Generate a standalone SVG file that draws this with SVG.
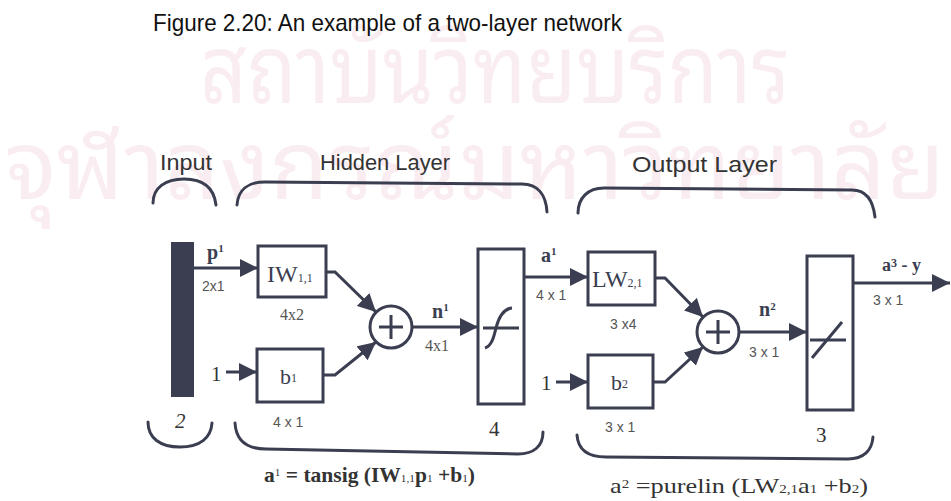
<svg xmlns="http://www.w3.org/2000/svg" width="951" height="501" viewBox="0 0 951 501">
<style>
.wm{font-family:"Noto Sans Thai Looped","Noto Sans Thai","Noto Sans","DejaVu Sans",sans-serif;fill:#faedf2;font-size:96px}
.ln{stroke:#3a3e50;stroke-width:3;fill:none}
.br{stroke:#3a3e50;stroke-width:3;fill:none;stroke-linecap:round}
.box{stroke:#3a3e50;stroke-width:3;fill:#fff}
.lbl{font-family:"Liberation Sans",Arial,sans-serif;font-size:22px;fill:#333}
.dim{font-family:"Liberation Sans",Arial,sans-serif;font-size:14px;fill:#555}
.sdim{font-family:"Liberation Serif","Times New Roman",serif;font-size:16px;fill:#555}
.ser{font-family:"Liberation Serif","Times New Roman",serif;fill:#3a3e50}
.sig{font-family:"Liberation Serif","Times New Roman",serif;font-weight:bold;fill:#3a3e50}
.frm{font-family:"Liberation Serif","Times New Roman",serif;font-size:21px;fill:#333}
</style>
<defs>
<marker id="ah" markerUnits="userSpaceOnUse" markerWidth="20" markerHeight="18" refX="18" refY="9" orient="auto">
<path d="M0,0 L18,9 L0,18 z" fill="#3a3e50"/>
</marker>
</defs>
<rect width="951" height="501" fill="#fff"/>
<g id="watermark">
<text class="wm" x="200" y="103" textLength="590" lengthAdjust="spacingAndGlyphs">สถาบันวิทยบริการ</text>
<text class="wm" x="5" y="199" textLength="940" lengthAdjust="spacingAndGlyphs">จุฬาลงกรณ์มหาวิทยาลัย</text>
</g>
<text id="title" x="153" y="31" font-family="Liberation Sans,Arial,sans-serif" font-size="24" fill="#111" textLength="469" lengthAdjust="spacingAndGlyphs">Figure 2.20: An example of a two-layer network</text>
<g id="layer-labels">
<text class="lbl" x="160" y="170" textLength="52" lengthAdjust="spacingAndGlyphs">Input</text>
<text class="lbl" x="320" y="170" textLength="130" lengthAdjust="spacingAndGlyphs">Hidden Layer</text>
<text class="lbl" x="632" y="172" textLength="145" lengthAdjust="spacingAndGlyphs">Output Layer</text>
</g>
<g id="braces">
<path class="br" d="M153,203 C153,188 165,179 184,179 C203,179 214,188 216,205"/>
<path class="br" d="M237,205 C238,190 248,182 265,182 L522,184 C538,184 546,195 547,212"/>
<path class="br" d="M578,213 C578,198 588,188 604,188 L852,190 C866,190 873,200 875,217"/>
<path class="br" d="M148,422 C148,438 160,447 180,447 C200,447 211,438 212,423"/>
<path class="br" d="M235,423 C236,440 246,449 266,449 L518,454 C534,454 543,446 543,432"/>
<path class="br" d="M577,435 C578,450 588,457 606,457 L848,459 C864,459 872,450 873,437"/>
</g>
<g id="input">
<rect x="171" y="242" width="23" height="155" fill="#3a3e50"/>
<text class="frm" x="175" y="428" font-style="italic">2</text>
</g>
<g id="IW">
<rect class="box" x="258" y="246" width="68" height="51"/>
<text class="ser" x="267" y="282" font-size="24">IW<tspan font-size="12">1,1</tspan></text>
<text class="sdim" x="280" y="320">4x2</text>
</g>
<g id="b1">
<rect class="box" x="257" y="349" width="66" height="53"/>
<text class="ser" x="280" y="384" font-size="22">b<tspan font-size="12" dy="-2">1</tspan></text>
<text class="dim" x="273" y="427">4 x 1</text>
</g>
<g id="sum1">
<circle class="box" cx="391" cy="327" r="21"/>
<path class="ln" d="M379,327 H403 M391,315 V339"/>
</g>
<g id="tansig">
<rect class="box" x="478" y="249" width="46" height="155"/>
<path class="ln" d="M483,328 H519"/>
<path class="ln" stroke-width="2.5" d="M485,348 C492,346 494,336 496,328 C498,320 502,309 512,308"/>
<text class="frm" x="489" y="436" font-size="22">4</text>
</g>
<g id="LW">
<rect class="box" x="588" y="252" width="67" height="53"/>
<text class="ser" x="592" y="287" font-size="24">LW<tspan font-size="12">2,1</tspan></text>
<text class="dim" x="610" y="329">3 x4</text>
</g>
<g id="b2">
<rect class="box" x="588" y="355" width="65" height="53"/>
<text class="ser" x="611" y="390" font-size="22">b<tspan font-size="12" dy="-2">2</tspan></text>
<text class="dim" x="605" y="432">3 x 1</text>
</g>
<g id="sum2">
<circle class="box" cx="718" cy="332" r="21"/>
<path class="ln" d="M706,332 H730 M718,320 V344"/>
</g>
<g id="purelin">
<rect class="box" x="807" y="256" width="46" height="154"/>
<path class="ln" d="M810,340 H846"/>
<path class="ln" stroke-width="2.5" d="M812,358 L842,322"/>
<text class="frm" x="816" y="442" font-size="22">3</text>
</g>
<g id="connectors">
<path class="ln" d="M194,268 H258" marker-end="url(#ah)"/>
<path class="ln" d="M226,372 H257" marker-end="url(#ah)"/>
<path class="ln" d="M326,272 H335 L376,312" marker-end="url(#ah)"/>
<path class="ln" d="M323,375 H335 L376,342" marker-end="url(#ah)"/>
<path class="ln" d="M412,327 H478" marker-end="url(#ah)"/>
<path class="ln" d="M524,277 H588" marker-end="url(#ah)"/>
<path class="ln" d="M556,382 H588" marker-end="url(#ah)"/>
<path class="ln" d="M655,278 H665 L703,317" marker-end="url(#ah)"/>
<path class="ln" d="M653,382 H665 L703,347" marker-end="url(#ah)"/>
<path class="ln" d="M739,332 H807" marker-end="url(#ah)"/>
<path class="ln" d="M853,283 H950" marker-end="url(#ah)"/>
</g>
<g id="connector-labels">
<text class="sig" x="207" y="259" font-size="20">p<tspan font-size="11" dy="-7">1</tspan></text>
<text class="dim" x="202" y="291">2x1</text>
<text class="frm" x="211" y="381">1</text>
<text class="sig" x="432" y="318" font-size="20">n<tspan font-size="11" dy="-7">1</tspan></text>
<text class="sdim" x="425" y="351">4x1</text>
<text class="sig" x="541" y="262" font-size="20">a<tspan font-size="11" dy="-7">1</tspan></text>
<text class="dim" x="536" y="300">4 x 1</text>
<text class="frm" x="541" y="390">1</text>
<text class="sig" x="759" y="316" font-size="20">n<tspan font-size="11" dy="-6">2</tspan></text>
<text class="dim" x="749" y="357">3 x 1</text>
<text class="sig" x="882" y="271" font-size="18">a<tspan font-size="12" dy="-4">3</tspan><tspan dy="4"> - y</tspan></text>
<text class="dim" x="873" y="305">3 x 1</text>
</g>
<g id="formulas">
<text class="frm" x="264" y="482" font-weight="bold" textLength="211" lengthAdjust="spacingAndGlyphs">a<tspan font-size="11" font-weight="normal" dy="-6">1</tspan><tspan dy="6"> = tansig (IW</tspan><tspan font-size="11" font-weight="normal">1,1</tspan>p<tspan font-size="11" font-weight="normal">1</tspan> +b<tspan font-size="11" font-weight="normal">1</tspan>)</text>
<text class="frm" x="610" y="493" textLength="258" lengthAdjust="spacingAndGlyphs">a<tspan font-size="12" dy="-5">2</tspan><tspan dy="5"> =purelin (LW</tspan><tspan font-size="12">2,1</tspan>a<tspan font-size="12">1</tspan> +b<tspan font-size="12">2</tspan>)</text>
</g>
</svg>
